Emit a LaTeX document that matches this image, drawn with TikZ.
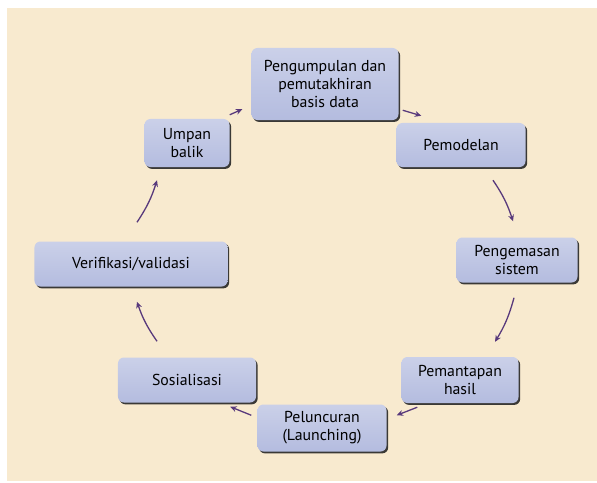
\documentclass[tikz,border=0pt]{standalone}
\usepackage{fontspec}
\setmainfont{PT Sans}
\usetikzlibrary{arrows.meta,shadows,calc}

\definecolor{bgbeige}{HTML}{F8EACF}
\definecolor{boxlav}{HTML}{B4BCDF}
\definecolor{arrowpurple}{HTML}{58397C}

\tikzset{
    stage/.style={
        draw=none, rounded corners=5pt, inner sep=0pt, align=center,
        top color=boxlav!70!white, bottom color=boxlav,
        drop shadow={shadow xshift=1.4pt, shadow yshift=-1.6pt, fill=black!85, opacity=0.9},
        font=\fontsize{13.5}{15.5}\selectfont
    },
    flow/.style={draw=arrowpurple, line width=1.1pt, -{Stealth[length=5.5pt,width=5pt]}},
}

\begin{document}
\begin{tikzpicture}[x=0.03cm, y=-0.03cm]

    %canvas
    \useasboundingbox (0,0) rectangle (597,482);
    \fill[bgbeige] (7,8) rectangle (597,481);

    %stages of the cycle
    \node[stage, minimum width=4.41cm, minimum height=2.16cm] (gather) at (325,84) {Pengumpulan dan\\pemutakhiran\\basis data};
    \node[stage, minimum width=3.87cm, minimum height=1.32cm] (model) at (461,145) {Pemodelan};
    \node[stage, minimum width=3.63cm, minimum height=1.35cm] (pack) at (517,260) {Pengemasan\\sistem};
    \node[stage, minimum width=3.51cm, minimum height=1.38cm] (settle) at (460,380) {Pemantapan\\hasil};
    \node[stage, minimum width=3.87cm, minimum height=1.41cm] (launch) at (322,428) {Peluncuran\\(Launching)};
    \node[stage, minimum width=4.14cm, minimum height=1.35cm] (social) at (187,380) {Sosialisasi};
    \node[stage, minimum width=5.79cm, minimum height=1.35cm] (verify) at (131,264) {Verifikasi/validasi};
    \node[stage, minimum width=2.55cm, minimum height=1.44cm] (feedback) at (187,143) {Umpan\\balik};

    %arrows round the cycle
    \draw[flow] ($(gather.south east)+(4,-10)$) -- ($(model.north west)+(25,-7)$);
    \draw[flow] ($(model.south)+(32,13)$) to[bend left=8] ($(pack.north)+(-4,-16)$);
    \draw[flow] ($(pack.south)+(-3,15)$) to[bend left=8] ($(settle.north)+(35,-15)$);
    \draw[flow] ($(settle.south west)+(16,4)$) -- ($(launch.north east)+(10,11)$);
    \draw[flow] ($(launch.north west)+(-6,11)$) -- ($(social.south east)+(-26,4)$);
    \draw[flow] ($(social.north)+(-30,-16)$) to[bend left=8] ($(verify.south)+(6,15)$);
    \draw[flow] ($(verify.north)+(6,-19)$) to[bend right=8] ($(feedback.south)+(-30,13)$);
    \draw[flow] ($(feedback.north east)+(0,-4)$) -- ($(gather.south west)+(-9,-11)$);

\end{tikzpicture}
\end{document}
